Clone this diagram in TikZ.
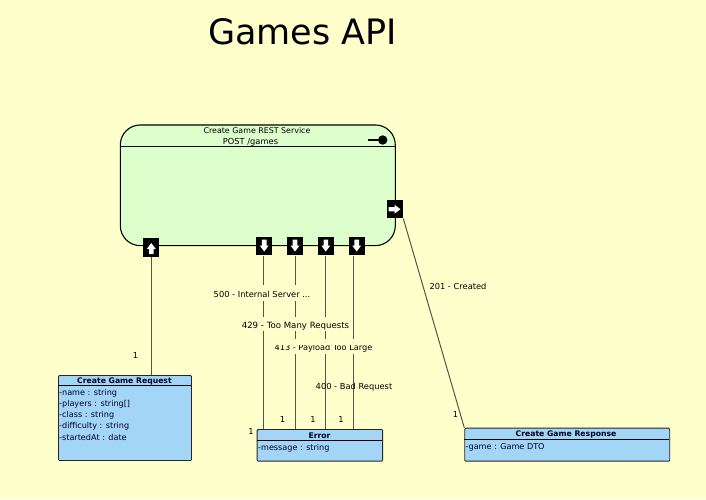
\documentclass[tikz,border=0pt]{standalone}
\usepackage{fontspec}
\setmainfont{DejaVu Sans}
\definecolor{bgc}{HTML}{FFFFCC}
\definecolor{svc}{HTML}{DDFFCC}
\definecolor{cls}{HTML}{A3D5F7}
\definecolor{lnc}{HTML}{55554A}
\begin{document}
\begin{tikzpicture}[x=1pt,y=-1pt,
  lbl/.style={font=\fontsize{8.3}{10}\selectfont,inner sep=0pt,text=black},
  lblbg/.style={lbl},
  clsbox/.style={draw=black!85,fill=cls,line width=0.9pt,inner sep=0pt,anchor=north west,rounded corners=1pt},
  ttl/.style={font=\fontsize{7.7}{9}\selectfont\bfseries,inner sep=0pt,text=black!85!blue},
  attr/.style={font=\fontsize{8.1}{10}\selectfont,inner sep=0pt,anchor=west,text=black!85!blue},
  conn/.style={draw=lnc,line width=1pt},
  portbox/.style={fill=black,inner sep=0pt,minimum width=16.2pt,minimum height=18.4pt}]
\useasboundingbox (0,0) rectangle (706,499);
\fill[bgc] (0,0) rectangle (706,499);
\node[inner sep=0pt,font=\fontsize{35}{40}\selectfont] (title) at (302.5,32) {Games API};
% service
\node[draw=black,fill=svc,line width=1.1pt,rounded corners=20pt,minimum width=275pt,minimum height=120.7pt,inner sep=0pt] (svc) at (257.8,185.3) {};
\draw[black,line width=1.1pt] (svc.west |- 0,146.7) -- (svc.east |- 0,146.7);
\node[lbl,font=\fontsize{7.9}{10}\selectfont] (svct) at (257,131) {Create Game REST Service};
\node[lbl] (svcp) at (250.5,142) {POST /games};
\node[fill=black,circle,inner sep=0pt,minimum size=9.4pt] (lol) at (382.7,140) {};
\coordinate (lolend) at (368,140);
\draw[black,line width=1.1pt] (lolend) -- (lol);
% classes
\node[clsbox,minimum width=133pt,minimum height=85pt] (req) at (58,375) {};
\node[clsbox,minimum width=125.5pt,minimum height=31.7pt] (err) at (256.7,429) {};
\node[clsbox,minimum width=205pt,minimum height=33pt] (res) at (464.3,427.7) {};
\draw[black,line width=0.9pt] (58,385.7) -- (191,385.7);
\draw[black,line width=0.9pt] (256.7,440.7) -- (382.2,440.7);
\draw[black,line width=0.9pt] (464.3,439) -- (669.3,439);
\begin{scope}
\clip (58,376) rectangle (191,384);
\node[ttl] (reqt) at (124.5,381) {Create Game Request};
\end{scope}
\begin{scope}
\clip (256.7,431.5) rectangle (382.2,440);
\node[ttl] (errt) at (319.5,435.5) {Error};
\end{scope}
\node[ttl] (rest) at (566,434) {Create Game Response};
\node[attr] (a1) at (59,393.3) {-name : string};
\node[attr] (a2) at (59,404) {-players : string[]};
\node[attr] (a3) at (59,415) {-class : string};
\node[attr] (a4) at (59,426) {-difficulty : string};
\node[attr] (a5) at (59,437) {-startedAt : date};
\node[attr] (e1) at (258,448.3) {-message : string};
\node[attr] (g1) at (465.5,447) {-game : Game DTO};
% ports
\node[portbox] (pin) at (151.3,247.5) {};
\node[portbox] (p500) at (264.2,246.2) {};
\node[portbox] (p429) at (295,246.2) {};
\node[portbox] (p413) at (325.8,246.2) {};
\node[portbox] (p400) at (356.7,246.2) {};
\node[portbox] (pout) at (395,209.2) {};
\fill[white] (151.3,243) -- (155.8,249) -- (153.5,249) -- (153.5,254) -- (149.1,254) -- (149.1,249) -- (146.8,249) -- cycle;
\foreach \p in {264.2,295,325.8,356.7}{
  \fill[white] (\p,251.5) -- (\p+4.5,245.5) -- (\p+2.3,245.5) -- (\p+2.3,239.5) -- (\p-2.3,239.5) -- (\p-2.3,245.5) -- (\p-4.5,245.5) -- cycle;}
\fill[white] (400.5,209.2) -- (394.5,204.7) -- (394.5,207) -- (388.5,207) -- (388.5,211.4) -- (394.5,211.4) -- (394.5,213.7) -- cycle;
% connectors
\draw[conn] (p500.south -| 263,0) -- (263,429) coordinate (c500);
\draw[conn] (pin.south) -- (pin.south |- req.north);
\draw[conn] (p429.south) -- (p429.south |- err.north);
\draw[conn] (p413.south) -- (p413.south |- err.north);
\draw[conn] (p400.south -| 353.3,0) -- (353.3,429) coordinate (c400);
\draw[conn] (pout.south east) -- (res.north west);
% labels
\fill[bgc] (271,339) rectangle (377,354);
\begin{scope}
\clip (265,345) rectangle (385,351.5);
\node[lbl,font=\fontsize{8.2}{10}\selectfont] (l413) at (323.5,348) {413 - Payload Too Large};
\end{scope}
\fill[bgc] (212,285) rectangle (312,301);
\fill[bgc] (240,317) rectangle (351,331);
\node[lblbg] (l500) at (262,294) {500 - Internal Server ...};
\node[lblbg,font=\fontsize{8.6}{10}\selectfont] (l429) at (295.5,326) {429 - Too Many Requests};
\node[lbl] (l400) at (354,387) {400 - Bad Request};
\node[lbl] (l201) at (458,286) {201 - Created};
\node[lbl] (m1) at (135.5,355) {1};
\node[lbl] (m2) at (282.5,419) {1};
\node[lbl] (m3) at (313,419) {1};
\node[lbl] (m4) at (341,419) {1};
\node[lbl] (m5) at (251,431) {1};
\node[lbl] (m6) at (455.5,414) {1};
\end{tikzpicture}
\end{document}
